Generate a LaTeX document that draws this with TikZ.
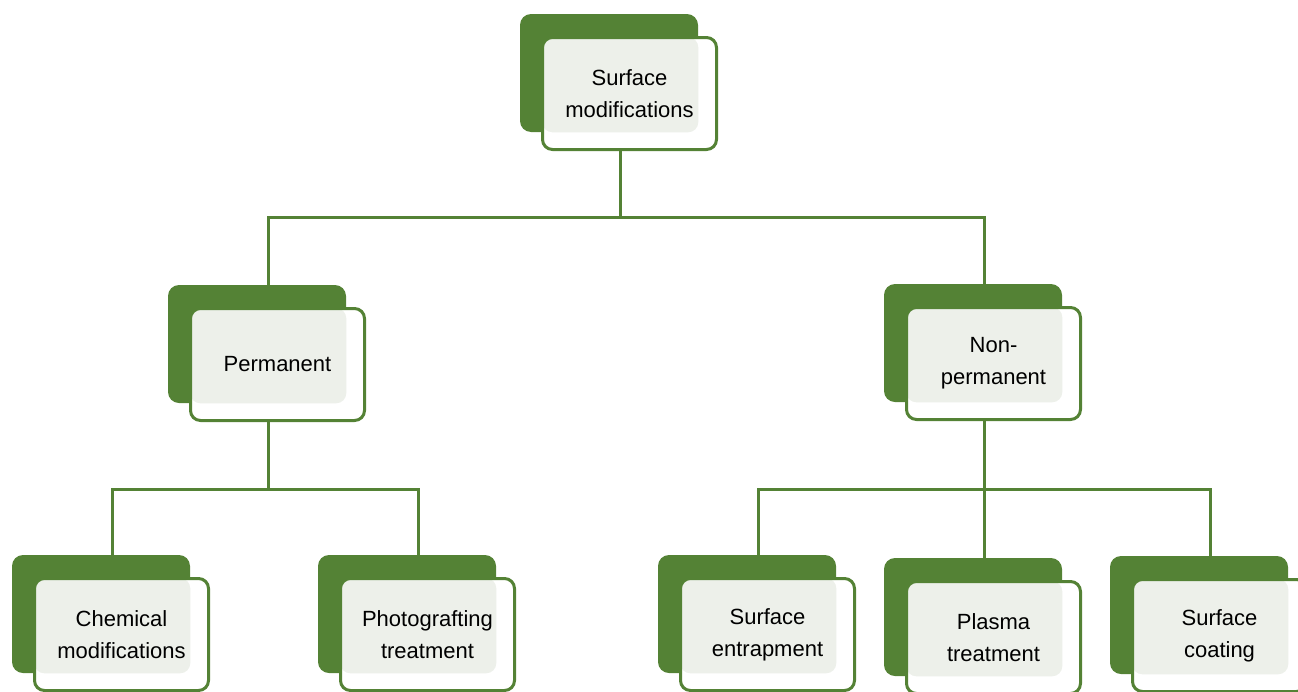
\documentclass[tikz,border=0pt]{standalone}
\usepackage{fontspec}
\setmainfont{Liberation Sans}
\definecolor{gdark}{HTML}{548235}
\definecolor{glight}{HTML}{EDF0EA}
\tikzset{
 darkbox/.style={fill=gdark, minimum width=178pt, minimum height=118pt, inner sep=0pt, outer sep=0pt, rounded corners=11pt},
 backbox/.style={fill=white, minimum width=174pt, minimum height=112pt, inner sep=0pt, outer sep=0pt, rounded corners=10pt},
 graybox/.style={fill=glight, minimum width=156pt, minimum height=95pt, inner sep=0pt, outer sep=0pt, rounded corners=10pt},
 framebox/.style={draw=gdark, line width=3pt, minimum width=174pt, minimum height=112pt, inner sep=0pt, rounded corners=10pt, align=center, font=\fontsize{22}{32}\selectfont},
 conn/.style={draw=gdark, line width=3pt}
}
\newcommand\tbox[4]{%
 \node[darkbox] (#1d) at ({#2+89},{#3+59}) {};
 \node[backbox] at ({#2+109.5},{#3+79.5}) {};
 \node[graybox] (#1g) at ({#2+100.25},{#3+70.75}) {};
 \node[framebox] (#1) at ({#2+109.5},{#3+79.5}) {#4};}
\begin{document}
\begin{tikzpicture}[x=1pt,y=-1pt]
\useasboundingbox (0,0) rectangle (1298,691);
\clip (0,0) rectangle (1298,691);
\tbox{top}{520}{14}{Surface\\modifications}
\tbox{perm}{168}{285}{Permanent}
\tbox{nonp}{884}{284}{Non-\\permanent}
\tbox{chem}{12}{555}{Chemical\\modifications}
\tbox{photo}{318}{555}{Photografting\\treatment}
\tbox{entr}{658}{555}{Surface\\entrapment}
\tbox{plasma}{884}{558}{Plasma\\treatment}
\tbox{coat}{1110}{556}{Surface\\coating}
\coordinate (busA) at (0,217);
\coordinate (busB) at (0,489);
\draw[conn] (top.south -| topg) -- (busA -| topg);
\draw[conn] (permd.north -| permg) |- (busA -| nonpg) -- (nonpd.north -| nonpg);
\draw[conn] (perm.south -| permg) -- (busB -| permg);
\draw[conn] (chemd.north -| chemg) |- (busB -| photog) -- (photod.north -| photog);
\draw[conn] (nonp.south -| nonpg) -- (busB -| nonpg);
\draw[conn] (entrd.north -| entrg) |- (busB -| coatg) -- (coatd.north -| coatg);
\draw[conn] (busB -| plasmag) -- (plasmad.north -| plasmag);
\end{tikzpicture}
\end{document}
